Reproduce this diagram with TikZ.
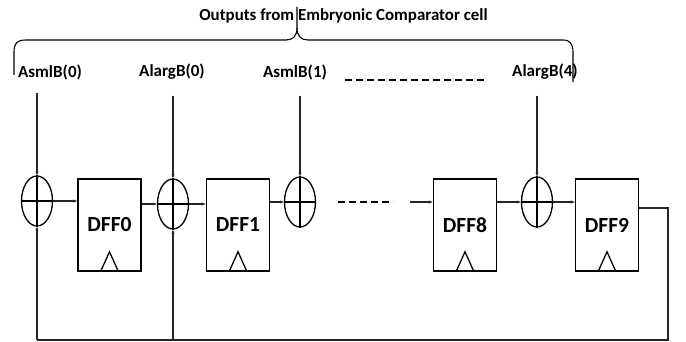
\documentclass[tikz,border=0pt]{standalone}
\usepackage{fontspec}
\setmainfont{Carlito}
\usetikzlibrary{shapes.geometric,arrows.meta}
\begin{document}
\begin{tikzpicture}[x=1pt,y=-1pt,
  wire/.style={line width=1.1pt,draw=black!85},
  arr/.style={wire,-{Stealth[length=4pt,width=3pt]}},
  xorc/.style={ellipse,draw,line width=1.3pt,minimum width=31pt,minimum height=50pt,inner sep=0pt},
  dff/.style={rectangle,draw,line width=1.6pt,minimum width=63pt,minimum height=92pt,inner sep=0pt,font=\fontsize{21.5}{22}\selectfont\bfseries},
  lbl/.style={font=\fontsize{17}{17}\selectfont\bfseries,inner sep=0pt},
  ttl/.style={font=\fontsize{16.9}{17}\selectfont\bfseries,inner sep=0pt},
  dsh/.style={line width=1.6pt,dash pattern=on 7pt off 4pt}]
\useasboundingbox (0,0) rectangle (686,342);
% title and brace
\node[ttl] (t) at (343.5,16) {Outputs from Embryonic Comparator cell};
\draw[line width=1.1pt] (14,75) -- (14,52) .. controls (14,43) and (17,40) .. (26,40)
  -- (286,40) .. controls (293,40) and (297,36) .. (297,28) -- (297,7);
\draw[line width=1.1pt] (297,28) .. controls (297,36) and (301,40) .. (308,40)
  -- (563,40) .. controls (570,40) and (573,44) .. (573,52) -- (573,82);
% labels
\node[lbl] (l1) at (50,72) {AsmlB(0)};
\node[lbl] (l2) at (172,72) {AlargB(0)};
\node[lbl] (l3) at (295,72) {AsmlB(1)};
\node[lbl] (l4) at (545,72) {AlargB(4)};
\coordinate (da) at (345,80);
\coordinate (db) at (486,80);
\draw[dsh] (da) -- (db);
% xor nodes
\node[xorc] (x1) at (37,201) {};
\node[xorc] (x2) at (173,204) {};
\node[xorc] (x3) at (300,202) {};
\node[xorc] (x4) at (537,202) {};
\foreach \n in {x1,x2,x3,x4}{
  \draw[line width=1.3pt] (\n.north) -- (\n.south);
  \draw[line width=1.3pt] (\n.west) -- (\n.east);
}
% dff nodes
\node[dff] (d0) at (109.5,225) {DFF0};
\node[dff] (d1) at (238,225) {DFF1};
\node[dff] (d8) at (465,225) {DFF8};
\node[dff] (d9) at (607,225) {DFF9};
\foreach \n in {d0,d1,d8,d9}{
  \draw[line width=1.3pt] ([xshift=-9pt]\n.south) -- ([yshift=20pt]\n.south) -- ([xshift=9pt]\n.south);
}
% inputs from top
\coordinate (i1) at (37,93);
\coordinate (i2) at (173,96);
\coordinate (i3) at (300,96);
\coordinate (i4) at (537,96);
\draw[arr] (i1) -- (x1.north);
\draw[arr] (i2) -- (x2.north);
\draw[arr] (i3) -- (x3.north);
\draw[arr] (i4) -- (x4.north);
% chain
\draw[arr] (x1.east) -- (x1.east -| d0.west);
\draw[arr] (x2.west -| d0.east) -- (x2.west);
\draw[arr] (x2.east) -- (x2.east -| d1.west);
\draw[arr] (x3.west -| d1.east) -- (x3.west);
\coordinate (m1) at (338,202);
\coordinate (m2) at (393,202);
\draw[dsh] (m1) -- (m2);
\coordinate (m3) at (410,202);
\draw[arr] (m3) -- (m3 -| d8.west);
\draw[arr] (x4.west -| d8.east) -- (x4.west);
\draw[arr] (x4.east) -- (x4.east -| d9.west);
% feedback
\coordinate (f0) at (638,208);
\coordinate (f1) at (668,208);
\coordinate (f2) at (668,340);
\coordinate (f3) at (37,340);
\coordinate (f4) at (173,340);
\draw[wire] (f0) -- (f1) -- (f2) -- (f3);
\draw[arr] (f3) -- (x1.south);
\draw[arr] (f4) -- (x2.south);
\end{tikzpicture}
\end{document}
